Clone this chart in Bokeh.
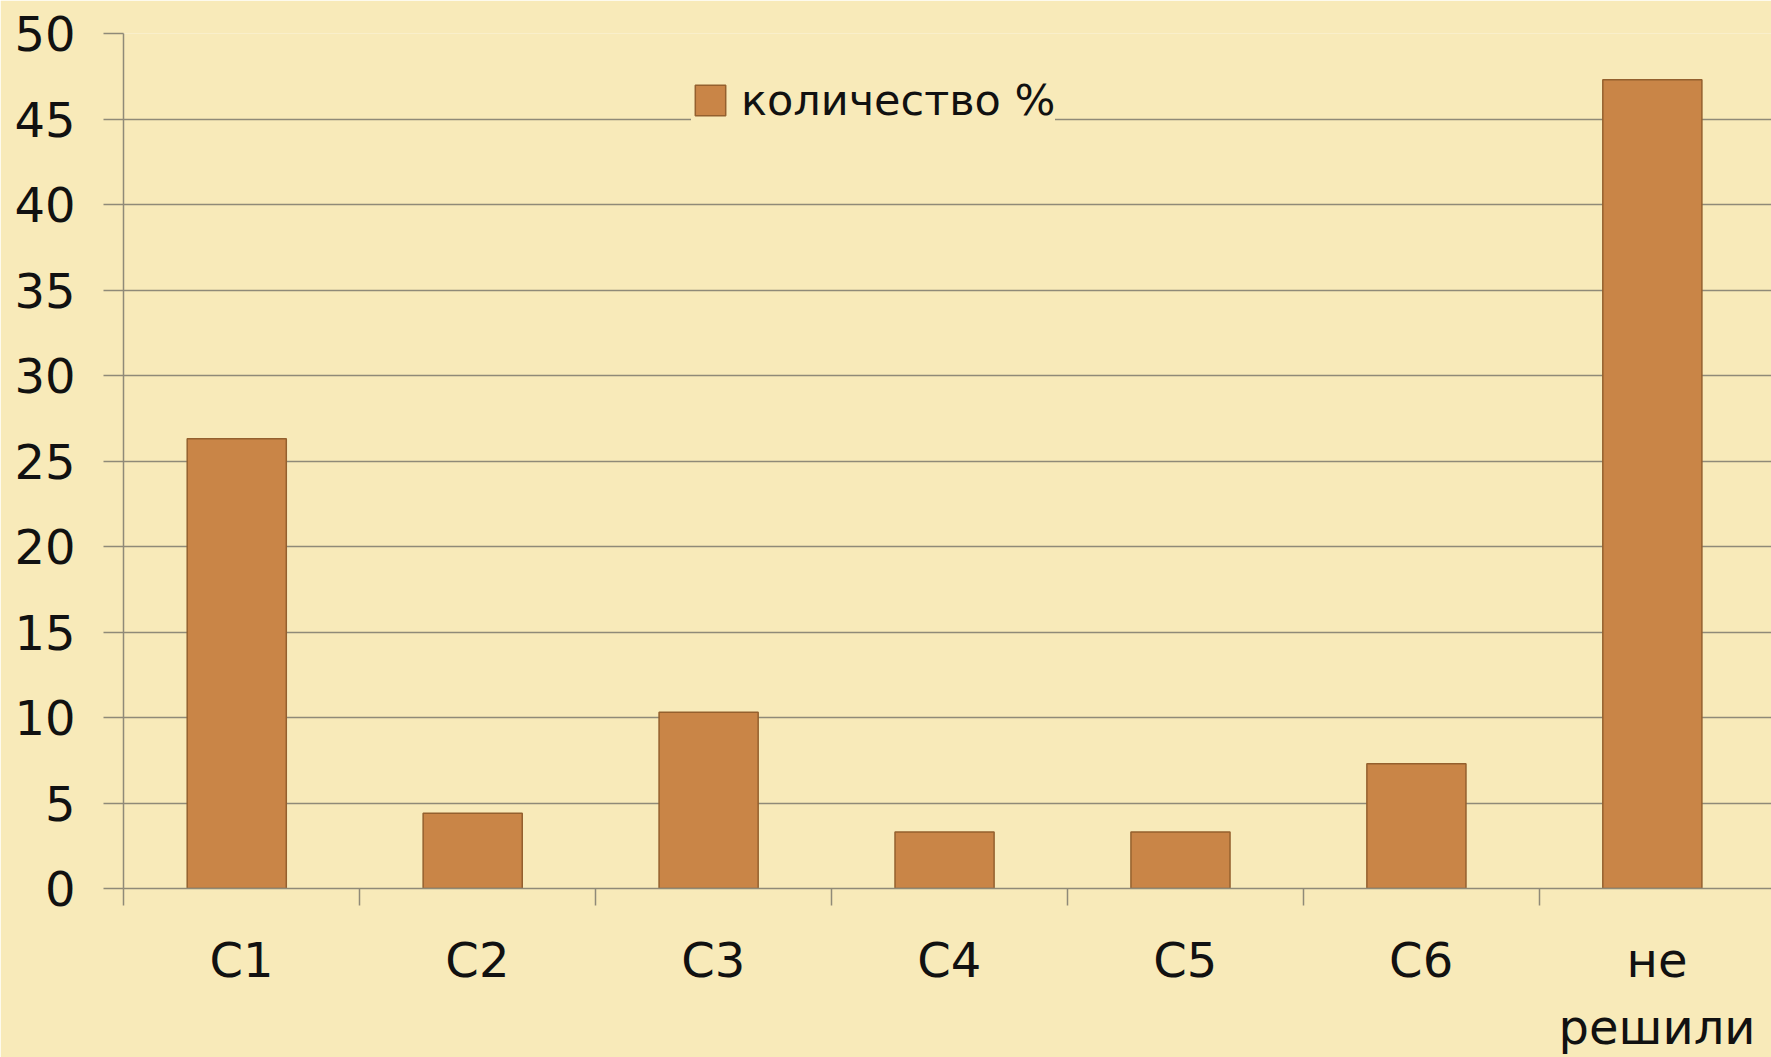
from bokeh.plotting import figure
from bokeh.models import ColumnDataSource, Range1d, FixedTicker, Legend, LegendItem
from bokeh.embed import file_html
from bokeh.resources import INLINE

categories = ["C1", "C2", "C3", "C4", "C5", "C6", "не\nрешили"]
values = [26.3, 4.4, 10.3, 3.3, 3.3, 7.3, 47.3]
y_ticks = [0, 5, 10, 15, 20, 25, 30, 35, 40, 45, 50]
series_name = "количество %"

xs = [i + 0.5 for i in range(len(categories))]
bar_x = [x - 0.02 for x in xs]
src = ColumnDataSource(dict(x=bar_x, top=values, cat=categories))

BG = "#f8eab9"
GRID = "#8f8a78"
FONT = "DejaVu Sans"

p = figure(width=1771, height=1057, output_backend="svg", toolbar_location=None,
           x_range=Range1d(0, 6.985), y_range=Range1d(0, 50),
           min_border_left=123, min_border_right=0, min_border_top=33, min_border_bottom=167)
p.background_fill_color = BG
p.border_fill_color = BG
p.outline_line_color = None

r = p.vbar(x="x", top="top", width=0.42, source=src, fill_color="#c98547",
           line_color="#94602e", line_width=1.5)

# x axis: labels at centres, tick marks at category boundaries
p.xaxis.ticker = FixedTicker(ticks=xs, minor_ticks=list(range(len(categories) + 1)))
p.xaxis.major_label_overrides = {x: c for x, c in zip(xs, categories)}
p.xaxis.major_tick_out = 0
p.xaxis.major_tick_in = 0
p.xaxis.minor_tick_out = 17
p.xaxis.minor_tick_in = 0
p.xaxis.minor_tick_line_color = GRID
p.xaxis.minor_tick_line_width = 1.5
p.xaxis.major_label_standoff = 26
p.xaxis.major_label_text_font = FONT
p.xaxis.major_label_text_font_size = "48px"
p.xaxis.major_label_text_color = "#111111"
p.xaxis.major_label_orientation = "horizontal"
p.xaxis.axis_line_color = GRID
p.xaxis.axis_line_width = 1.5

p.yaxis.ticker = FixedTicker(ticks=y_ticks)
p.yaxis.minor_tick_line_color = None
p.yaxis.major_tick_out = 20
p.yaxis.major_tick_in = 0
p.yaxis.major_tick_line_color = GRID
p.yaxis.major_tick_line_width = 1.5
p.yaxis.major_label_standoff = 28
p.yaxis.major_label_text_font = FONT
p.yaxis.major_label_text_font_size = "48px"
p.yaxis.major_label_text_color = "#111111"
p.yaxis.axis_line_color = GRID
p.yaxis.axis_line_width = 1.5

p.xgrid.grid_line_color = None
p.ygrid.grid_line_color = GRID
p.ygrid.grid_line_width = 1.5

legend = Legend(items=[LegendItem(label=series_name, renderers=[r])],
                location=(568, 763), orientation="horizontal")
legend.background_fill_color = BG
legend.background_fill_alpha = 1.0
legend.border_line_color = None
legend.label_text_font = FONT
legend.label_text_font_size = "43px"
legend.label_text_color = "#111111"
legend.glyph_width = 38
legend.glyph_height = 38
legend.padding = 12
legend.spacing = 0
legend.label_standoff = 12
p.add_layout(legend, "center")

open("out.html", "w").write(file_html(p, INLINE))
